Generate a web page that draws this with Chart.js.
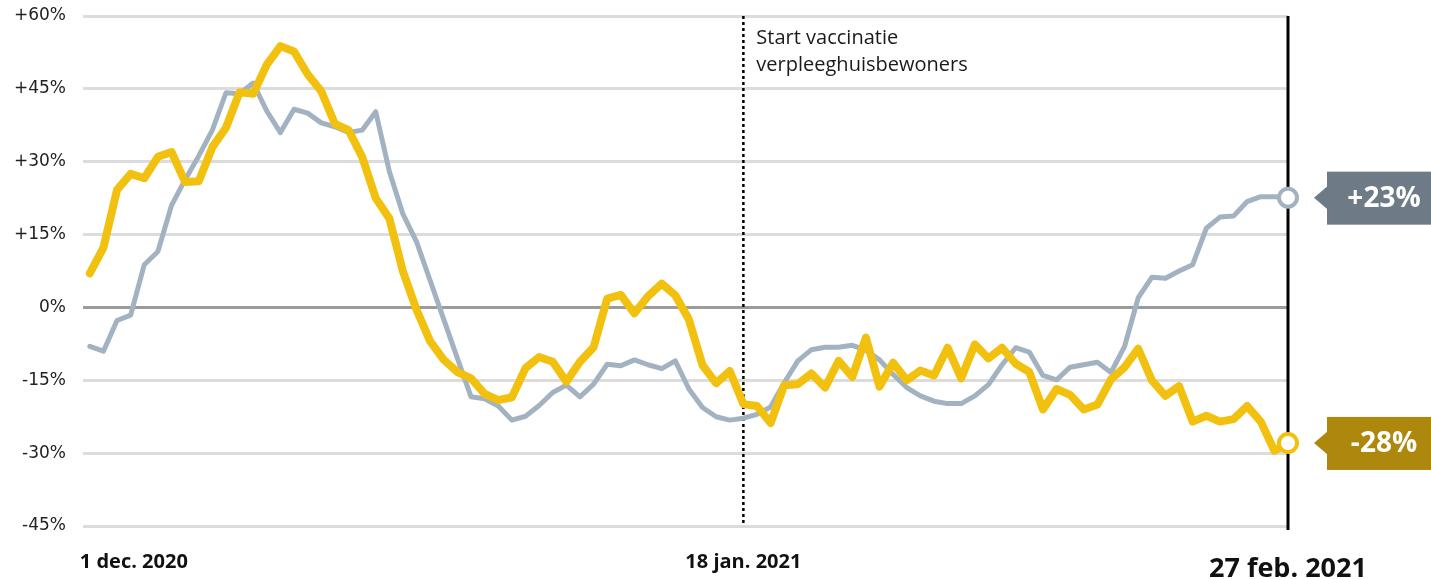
<!DOCTYPE html>
<html>
<head>
<meta charset="utf-8">
<script src="https://cdn.jsdelivr.net/npm/chart.js@4"></script>
<style>
  html, body { margin: 0; padding: 0; background: #fff; }
  canvas { display: block; }
</style>
</head>
<body>
<canvas id="chart" width="1431" height="579"></canvas>
<script>
// daily values, 1 dec. 2020 .. 27 feb. 2021 (index = day number)
const yellowValues = [
  7.0, 12.3, 24.2, 27.5, 26.6, 31.0, 32.0, 25.8, 26.0, 33.0,
  37.0, 44.3, 44.0, 50.0, 53.8, 52.7, 48.0, 44.5, 37.8, 36.5,
  31.0, 22.5, 18.3, 7.4, -0.5, -7.0, -10.8, -13.3, -14.6, -17.8,
  -19.1, -18.5, -12.5, -10.2, -11.2, -15.3, -11.2, -8.2, 1.8, 2.6,
  -1.2, 2.3, 4.9, 2.5, -2.5, -11.9, -15.6, -13.1, -19.9, -20.3,
  -23.8, -16.0, -15.8, -13.6, -16.5, -11.0, -14.3, -6.2, -16.3, -11.4,
  -15.0, -13.0, -14.0, -8.3, -14.6, -7.6, -10.5, -8.3, -11.6, -13.3,
  -21.0, -16.8, -18.0, -21.0, -20.0, -14.8, -12.3, -8.5, -15.0, -18.2,
  -16.2, -23.5, -22.3, -23.5, -23.0, -20.3, -23.5, -29.5, -27.9
];
const grayValues = [
  -8.0, -9.0, -2.7, -1.6, 8.8, 11.5, 21.0, 26.3, 31.2, 36.5,
  44.2, 44.0, 46.2, 40.4, 36.0, 40.8, 40.0, 38.0, 37.2, 36.0,
  36.5, 40.3, 28.0, 19.2, 13.5, 5.5, -2.5, -10.5, -18.4, -18.8,
  -20.3, -23.2, -22.4, -20.2, -17.5, -16.0, -18.4, -15.8, -11.7, -12.0,
  -10.8, -11.8, -12.6, -11.0, -16.8, -20.6, -22.5, -23.2, -22.8, -22.0,
  -20.5, -15.5, -11.0, -8.7, -8.2, -8.2, -7.8, -8.8, -10.8, -13.8,
  -16.5, -18.2, -19.3, -19.8, -19.8, -18.2, -15.9, -11.8, -8.3, -9.2,
  -14.0, -14.9, -12.3, -11.8, -11.3, -13.4, -8.0, 2.0, 6.2, 6.0,
  7.5, 8.8, 16.3, 18.6, 18.8, 21.8, 22.8, 22.8, 22.6
];

const xTickDays = [0, 48, 88];
const xTickLabels = ['1 dec. 2020', '18 jan. 2021', '27 feb. 2021'];
const vaccinationDay = 48;
const vaccinationNote = ['Start vaccinatie', 'verpleeghuisbewoners'];

const YELLOW = '#f2c10f';
const GRAY = '#a3b2c1';
const lastDay = yellowValues.length - 1;

const toPoints = values => values.map((v, i) => ({ x: i, y: v }));
const fmtPct = v => (v > 0 ? '+' : '') + v + '%';

const decorations = {
  id: 'decorations',
  beforeDatasetsDraw(chart) {
    const { ctx, chartArea, scales: { x } } = chart;
    const vx = x.getPixelForValue(vaccinationDay);
    const ex = x.getPixelForValue(lastDay);
    ctx.save();

    // dotted line at vaccination start
    ctx.strokeStyle = '#000';
    ctx.lineWidth = 2.5;
    ctx.setLineDash([3, 3]);
    ctx.beginPath();
    ctx.moveTo(vx, chartArea.top);
    ctx.lineTo(vx, chartArea.bottom);
    ctx.stroke();
    ctx.setLineDash([]);

    // solid line on the last day
    ctx.lineWidth = 3;
    ctx.beginPath();
    ctx.moveTo(ex, chartArea.top);
    ctx.lineTo(ex, chartArea.bottom + 4);
    ctx.stroke();

    ctx.fillStyle = '#1a1a1a';
    ctx.font = '20px "Open Sans"';
    ctx.textAlign = 'left';
    ctx.textBaseline = 'alphabetic';
    ctx.fillText(vaccinationNote[0], vx + 13, 44);
    ctx.fillText(vaccinationNote[1], vx + 13, 71);
    ctx.restore();
  },
  afterDraw(chart) {
    const { ctx, scales: { x, y } } = chart;
    ctx.save();

    // date labels under the chart
    ctx.fillStyle = '#111';
    xTickDays.forEach((day, i) => {
      const px = x.getPixelForValue(day);
      const big = i === xTickDays.length - 1;
      ctx.font = 'bold ' + (big ? 27 : 20) + 'px "Open Sans"';
      ctx.textAlign = i === 0 ? 'left' : 'center';
      ctx.fillText(xTickLabels[i], i === 0 ? px - 10 : px, big ? 577 : 568);
    });

    // value tags at the end of each line
    const ex = x.getPixelForValue(lastDay);
    const tags = [
      { v: grayValues[lastDay], color: '#6e7b87' },
      { v: yellowValues[lastDay], color: '#ad880c' }
    ];
    tags.forEach(t => {
      const py = y.getPixelForValue(t.v);
      const left = ex + 39;
      ctx.fillStyle = t.color;
      ctx.fillRect(left, py - 26, chart.width - left, 53);
      ctx.beginPath();
      ctx.moveTo(ex + 26, py);
      ctx.lineTo(left + 1, py - 12);
      ctx.lineTo(left + 1, py + 12);
      ctx.closePath();
      ctx.fill();
      ctx.fillStyle = '#fff';
      ctx.font = 'bold 28px "Open Sans"';
      ctx.textAlign = 'center';
      ctx.textBaseline = 'middle';
      ctx.fillText(fmtPct(Math.round(t.v)), left + 57, py + 1);
    });
    ctx.restore();
  }
};

const endPoint = (color) => ({
  pointRadius: ctx => ctx.dataIndex === lastDay ? 9 : 0,
  pointHoverRadius: ctx => ctx.dataIndex === lastDay ? 9 : 0,
  pointBackgroundColor: '#fff',
  pointBorderColor: color,
  pointBorderWidth: 4,
  clip: false
});

new Chart(document.getElementById('chart'), {
  type: 'line',
  data: {
    datasets: [
      {
        label: 'geel',
        data: toPoints(yellowValues),
        borderColor: YELLOW,
        borderWidth: 8,
        borderJoinStyle: 'round',
        borderCapStyle: 'round',
        tension: 0,
        ...endPoint(YELLOW)
      },
      {
        label: 'grijs',
        data: toPoints(grayValues),
        borderColor: GRAY,
        borderWidth: 5,
        borderJoinStyle: 'round',
        borderCapStyle: 'round',
        tension: 0,
        ...endPoint(GRAY)
      }
    ]
  },
  options: {
    responsive: false,
    animation: false,
    layout: { autoPadding: false, padding: { top: 16, right: 143, bottom: 53, left: 0 } },
    plugins: {
      legend: { display: false },
      tooltip: { enabled: false }
    },
    scales: {
      x: {
        type: 'linear',
        min: -0.5,
        max: lastDay,
        display: false
      },
      y: {
        min: -45,
        max: 60,
        afterFit: scale => {
          scale.width = 83;
          scale.paddingTop = 0;
          scale.paddingBottom = 0;
        },
        border: { display: false },
        grid: {
          drawTicks: false,
          lineWidth: 3,
          color: ctx => ctx.tick && ctx.tick.value === 0 ? '#9b9b9b' : '#dcdcdc'
        },
        ticks: {
          stepSize: 15,
          padding: 17,
          color: '#222',
          font: { family: 'DejaVu Sans', size: 17 },
          callback: v => fmtPct(v)
        }
      }
    }
  },
  plugins: [decorations]
});
</script>
</body>
</html>
